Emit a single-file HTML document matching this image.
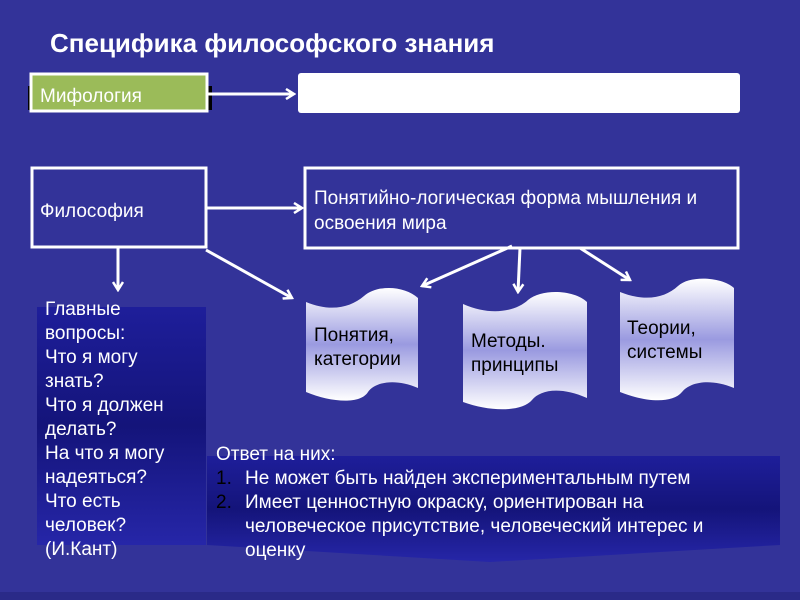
<!DOCTYPE html>
<html><head><meta charset="utf-8"><style>
body{margin:0;background:#333399;}
svg{display:block;font-family:"Liberation Sans",sans-serif;}
</style></head><body>
<svg width="800" height="600" viewBox="0 0 800 600">
<defs>
<linearGradient id="sc" x1="0" y1="0" x2="0" y2="1">
<stop offset="0" stop-color="#ffffff"/><stop offset="0.5" stop-color="#9a9ae0"/><stop offset="1" stop-color="#ffffff"/>
</linearGradient>
<linearGradient id="pn" x1="0" y1="0" x2="0" y2="1">
<stop offset="0" stop-color="#1e1e9a"/><stop offset="0.5" stop-color="#14147a"/><stop offset="1" stop-color="#2626a8"/>
</linearGradient>
<marker id="ah" markerWidth="12" markerHeight="12" refX="10" refY="6" orient="auto" markerUnits="userSpaceOnUse">
<path d="M2,1 L10,6 L2,11" fill="none" stroke="#fff" stroke-width="2.5"/>
</marker>
</defs>
<rect width="800" height="600" fill="#333399"/>
<rect x="0" y="592" width="800" height="8" fill="#2a2a88"/>
<text x="50" y="52" font-size="26" font-weight="bold" fill="#fff">Специфика философского знания</text>

<rect x="28" y="86" width="184" height="24" fill="#000"/>
<rect x="31" y="74" width="176" height="37" fill="#9bbb59" stroke="#fff" stroke-width="3"/>
<text x="40" y="102" font-size="19" fill="#fff">Мифология</text>
<line x1="208" y1="94" x2="294" y2="94" stroke="#fff" stroke-width="3" marker-end="url(#ah)"/>
<rect x="298" y="73" width="442" height="40" rx="3" fill="#fff"/>

<rect x="32" y="168" width="174" height="79" fill="none" stroke="#fff" stroke-width="3"/>
<text x="40" y="217" font-size="19" fill="#fff">Философия</text>
<line x1="206" y1="208" x2="302" y2="208" stroke="#fff" stroke-width="3" marker-end="url(#ah)"/>
<rect x="305" y="168" width="433" height="80" fill="none" stroke="#fff" stroke-width="3"/>
<g font-size="19" fill="#fff">
<text x="314" y="204">Понятийно-логическая форма мышления и</text>
<text x="314" y="229">освоения мира</text>
</g>

<line x1="118" y1="248" x2="118" y2="290" stroke="#fff" stroke-width="3" marker-end="url(#ah)"/>
<line x1="206" y1="250" x2="292" y2="298" stroke="#fff" stroke-width="3" marker-end="url(#ah)"/>
<line x1="512" y1="246" x2="422" y2="286" stroke="#fff" stroke-width="3" marker-end="url(#ah)"/>
<line x1="520" y1="248" x2="518" y2="292" stroke="#fff" stroke-width="3" marker-end="url(#ah)"/>
<line x1="580" y1="248" x2="630" y2="280" stroke="#fff" stroke-width="3" marker-end="url(#ah)"/>

<path d="M306,302 C330,312 350,308 364,296 C378,284 405,286 418,298 L418,388 C395,378 375,382 368,392 C360,405 330,402 306,392 Z" fill="url(#sc)"/>
<g font-size="19" fill="#000">
<text x="314" y="341">Понятия,</text>
<text x="314" y="365">категории</text>
</g>
<path d="M463,304 C490,316 515,312 528,300 C542,288 575,290 587,302 L587,398 C560,386 540,390 532,400 C522,412 490,412 463,402 Z" fill="url(#sc)"/>
<g font-size="19" fill="#000">
<text x="471" y="347">Методы.</text>
<text x="471" y="371">принципы</text>
</g>
<path d="M620,292 C645,302 665,298 678,286 C690,275 722,277 734,288 L734,388 C710,378 690,382 682,392 C672,404 645,402 620,392 Z" fill="url(#sc)"/>
<g font-size="19" fill="#000">
<text x="627" y="334">Теории,</text>
<text x="627" y="358">системы</text>
</g>

<rect x="37" y="307" width="169" height="238" fill="url(#pn)"/>
<g font-size="19" fill="#fff">
<text x="45" y="315">Главные</text>
<text x="45" y="339">вопросы:</text>
<text x="45" y="363">Что я могу</text>
<text x="45" y="387">знать?</text>
<text x="45" y="411">Что я должен</text>
<text x="45" y="435">делать?</text>
<text x="45" y="459">На что я могу</text>
<text x="45" y="483">надеяться?</text>
<text x="45" y="507">Что есть</text>
<text x="45" y="531">человек?</text>
<text x="45" y="555">(И.Кант)</text>
</g>

<path d="M207,456 L780,456 L780,545 L490,562 L207,545 Z" fill="url(#pn)"/>
<g font-size="19" fill="#fff">
<text x="216" y="460">Ответ на них:</text>
<text x="216" y="484" fill="#000">1.</text>
<text x="245" y="484">Не может быть найден экспериментальным путем</text>
<text x="216" y="508" fill="#000">2.</text>
<text x="245" y="508">Имеет ценностную окраску, ориентирован на</text>
<text x="245" y="532">человеческое присутствие, человеческий интерес и</text>
<text x="245" y="556">оценку</text>
</g>
</svg>
</body></html>
